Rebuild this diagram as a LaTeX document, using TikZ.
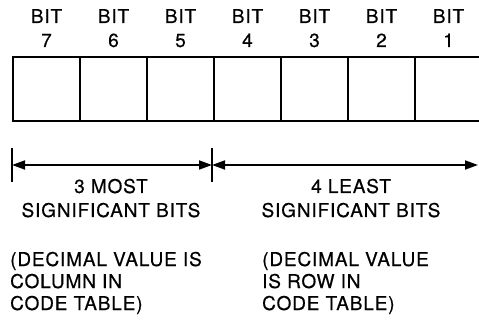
\documentclass[tikz,border=0pt]{standalone}
\usepackage{fontspec}
\setmainfont{TeX Gyre Heros}[LetterSpace=4.5, FakeBold=0.5]
\usetikzlibrary{arrows.meta}
\begin{document}
\begin{tikzpicture}[x=1pt,y=-1pt,
  font=\fontsize{19}{24}\selectfont,
  cell/.style={draw, line width=2pt, minimum width=67pt, minimum height=64pt,
    inner sep=0pt, outer sep=0pt},
  bitlabel/.style={anchor=base, align=center, inner sep=0pt},
  caption/.style={anchor=base, align=center, inner sep=0pt},
  note/.style={anchor=base west, align=left, inner sep=0pt,
    font=\fontsize{19}{22}\selectfont},
  dimline/.style={line width=1.8pt, {Triangle[length=13pt,width=9pt]}-{Triangle[length=13pt,width=9pt]}},
  tickline/.style={line width=1.8pt}]
\useasboundingbox (0,0) rectangle (479,320);

% seven bit cells, bit 7 on the left; labels anchored at their last line
\foreach \b [count=\i from 0] in {7,6,5,4,3,2,1} {
  \node[cell] (c\b) at ({13+67*\i+33.5},89) {};
  \node[bitlabel] (l\b) at (c\b.center |- 0,47) {BIT\\\b};
}
% heavier outer frame
\draw[line width=2.8pt] (c7.north west) -- (c1.north east);
\draw[line width=2.8pt] (c7.south west) -- (c1.south east);
\draw[line width=2.8pt] (c7.north west) -- (c7.south west);

% dimension lines
\coordinate (tl) at (12,165);
\coordinate (tm) at (212,165);
\coordinate (tr) at (478,165);
\draw[tickline] (tl) ++(0,-17) -- ++(0,34);
\draw[tickline] (tm) ++(0,-17) -- ++(0,34);
\draw[dimline] (tl) -- (tm);
\draw[dimline] (tm) -- (tr);

% captions
\node[caption] (msb) at (111,217) {3 MOST\\SIGNIFICANT BITS};
\node[caption] (lsb) at (351,217) {4 LEAST\\SIGNIFICANT BITS};
\node[note] (colnote) at (10,310) {(DECIMAL VALUE IS\\COLUMN IN\\CODE TABLE)};
\node[note] (rownote) at (262,310) {(DECIMAL VALUE\\IS ROW IN\\CODE TABLE)};
\end{tikzpicture}
\end{document}
